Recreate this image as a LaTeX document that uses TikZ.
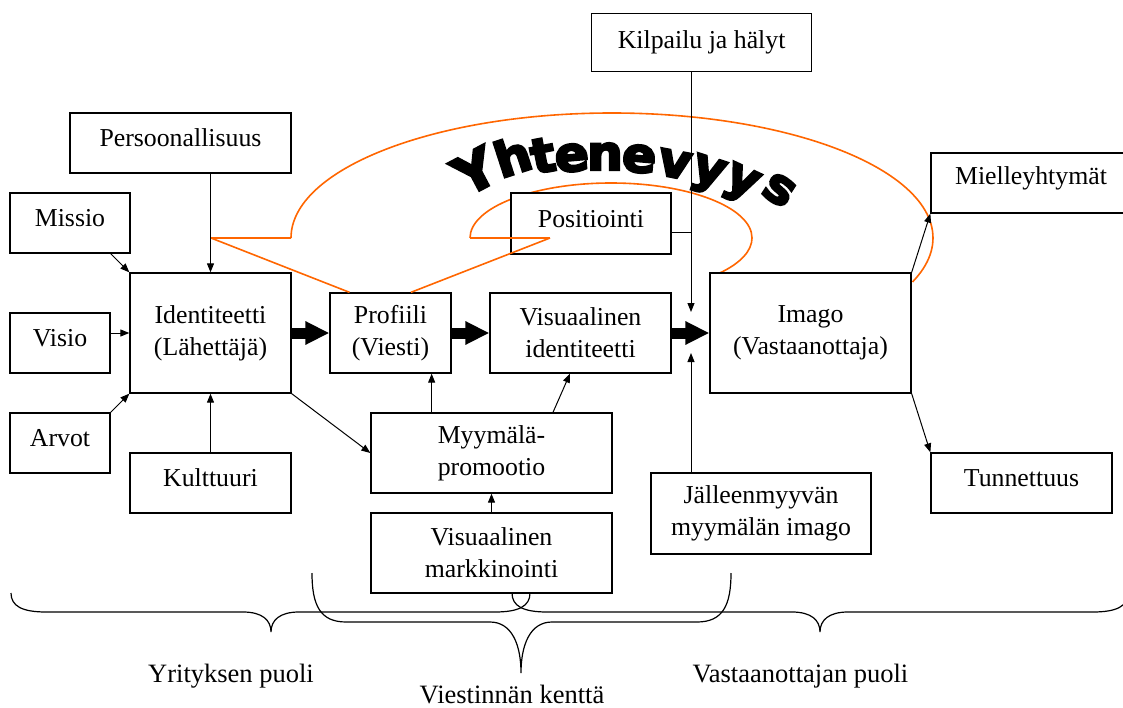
\documentclass[tikz,border=0pt]{standalone}
\usepackage{fontspec}
\setmainfont{Liberation Serif}
\newfontfamily\archfont{DejaVu Sans}[BoldFeatures={FakeBold=5},FakeStretch=1.05]
\usetikzlibrary{arrows.meta,calc}
\definecolor{wordorange}{RGB}{255,102,0}

\begin{document}
\begin{tikzpicture}[x=1pt,y=-1pt,
  box/.style={draw, line width=1.3pt, fill=white, inner sep=0pt, align=center,
    font=\fontsize{25.8}{32}\selectfont},
  one/.style={box, text height=17.6pt, text depth=10pt},
  link/.style={line width=1pt, -{Triangle[length=9pt,width=7pt]}},
  fat/.style={line width=11pt, -{Triangle[length=24pt,width=22pt]}},
  swoosh/.style={draw=wordorange, line width=1.6pt},
  brace/.style={line width=1.2pt},
  side/.style={font=\fontsize{26.5}{32}\selectfont, anchor=base, inner sep=0pt},
  arch/.style={font=\archfont\bfseries\fontsize{48}{48}\selectfont, anchor=base, inner sep=0pt},
]
\useasboundingbox (0,0) rectangle (1123,708);
\clip (0,0) rectangle (1123,708);
\fill[white] (0,0) rectangle (1123,708);

% orange arcs (behind the boxes)
\draw[swoosh] (291,238) arc[start angle=-180, end angle=20.6, x radius=321, y radius=125];
\draw[swoosh] (470,238) arc[start angle=-180, end angle=39.5, x radius=141, y radius=55];

% arched word
\node[arch, rotate=28, scale=1.1] (w1)  at (484,188) {Y};
\node[arch, rotate=18]  (w2)  at (518,173) {h};
\node[arch, rotate=11]  (w3)  at (546,172) {t};
\node[arch, rotate=5]   (w4)  at (573,171) {e};
\node[arch, rotate=0]   (w5)  at (605,170) {n};
\node[arch, rotate=-5]  (w6)  at (638,172) {e};
\node[arch, rotate=-11] (w7)  at (672,177) {v};
\node[arch, rotate=-18] (w8)  at (705,183) {y};
\node[arch, rotate=-25] (w9)  at (737,192) {y};
\node[arch, rotate=-33] (w10) at (772,201) {s};

% boxes
\node[one, text depth=5.6pt, minimum width=220pt, minimum height=58.4pt] (kil) at (701.6,42.5) {Kilpailu ja hälyt};
\node[one, minimum width=221pt, minimum height=60pt] (per) at (180.5,143) {Persoonallisuus};
\node[one, minimum width=120pt, minimum height=60pt] (mis) at (70,223) {Missio};
\node[one, minimum width=100pt, minimum height=60pt] (vis) at (60,343) {Visio};
\node[one, minimum width=100pt, minimum height=60pt] (arv) at (60,443) {Arvot};
\node[box, minimum width=161pt, minimum height=120pt] (ide) at (210.5,333) {Identiteetti\\(Lähettäjä)};
\node[one, minimum width=161pt, minimum height=60pt] (kul) at (210.5,483) {Kulttuuri};
\node[box, minimum width=121pt, minimum height=80pt] (pro) at (390.5,333) {Profiili\\(Viesti)};
\node[box, minimum width=181pt, minimum height=80pt] (vid) at (580.5,333) {Visuaalinen\\identiteetti};
\node[one, minimum width=160pt, minimum height=61pt] (pos) at (591,223.5) {Positiointi};
\node[box, minimum width=201pt, minimum height=120pt] (img) at (810.5,333) {Imago\\(Vastaanottaja)};
\node[one, text depth=13.6pt, minimum width=200pt, minimum height=60pt] (mie) at (1031,183) {Mielleyhtymät};
\node[one, minimum width=181pt, minimum height=60pt] (tun) at (1021.5,483) {Tunnettuus};
\node[box, minimum width=241pt, minimum height=80pt] (myy) at (491.5,453) {Myymälä-\\promootio};
\node[box, minimum width=241pt, minimum height=80pt] (vmk) at (491.5,553) {Visuaalinen\\markkinointi};
\node[box, minimum width=220pt, minimum height=81pt] (jal) at (761,513.5) {Jälleenmyyvän\\myymälän imago};

% orange straight strokes (over the boxes)
\coordinate (oa) at (211,238);
\coordinate (ob) at (291,238);
\coordinate (oc) at (470,238);
\coordinate (od) at (550,238);
\draw[swoosh] (oa) -- (ob);
\draw[swoosh] (oc) -- (od);
\draw[swoosh] (oa) -- ($(pro.north west)!0.165!(pro.north east)$);
\draw[swoosh] (od) -- ($(pro.north west)!0.667!(pro.north east)$);

% thin connectors
\draw[link] (ide.north |- per.south) -- (ide.north);
\draw[link] ($(mis.south east)+(-20,0)$) -- (ide.north west);
\draw[link] (vis.east |- ide.west) -- (ide.west);
\draw[link] (arv.north east) -- (ide.south west);
\draw[link] (kul.north) -- (ide.south);
\draw[link] (ide.south east) -- (myy.west);
\draw[link] (vmk.north) -- (myy.south);
\coordinate (p1) at ($(pro.south east)+(-20,0)$);
\draw[link] (myy.north -| p1) -- (p1);
\draw[link] ($(myy.north)+(61.5,0)$) -- ($(vid.south)+(-10.5,0)$);
\coordinate (kdn) at (691,312);
\draw[link] (kil.south -| kdn) -- (kdn);
\coordinate (pj) at (691,233);
\draw[line width=1pt] (pos.east |- pj) -- (pj);
\coordinate (jup) at (691,353);
\draw[link] (jal.north -| jup) -- (jup);
\draw[link] (img.north east) -- (mie.south west);
\draw[link] (img.south east) -- (tun.north west);

% main flow
\draw[fat] (ide.east) -- (pro.west);
\draw[fat] (pro.east) -- (vid.west);
\draw[fat] (vid.east) -- (img.west);

% braces
\draw[brace] (11,593) .. controls (11,606) and (22,612) .. (46,612) -- (243,612)
  .. controls (262,612) and (271,620) .. (271,632)
  .. controls (271,620) and (280,612) .. (299,612) -- (495,612)
  .. controls (519,612) and (530,606) .. (530,593);
\draw[brace] (312,573) .. controls (312,605) and (320,622) .. (346,622) -- (490,622)
  .. controls (512,622) and (521,645) .. (521,673)
  .. controls (521,645) and (530,622) .. (552,622) -- (697,622)
  .. controls (723,622) and (731,605) .. (731,573);
\draw[brace] (512,593) .. controls (512,606) and (523,612) .. (547,612) -- (792,612)
  .. controls (811,612) and (820,620) .. (820,632)
  .. controls (820,620) and (829,612) .. (848,612) -- (1093,612)
  .. controls (1117,612) and (1128,606) .. (1128,593);

\node[side] (ly) at (231,682) {Yrityksen puoli};
\node[side] (lv) at (512,703) {Viestinnän kenttä};
\node[side] (lr) at (800.5,682) {Vastaanottajan puoli};
\end{tikzpicture}
\end{document}
